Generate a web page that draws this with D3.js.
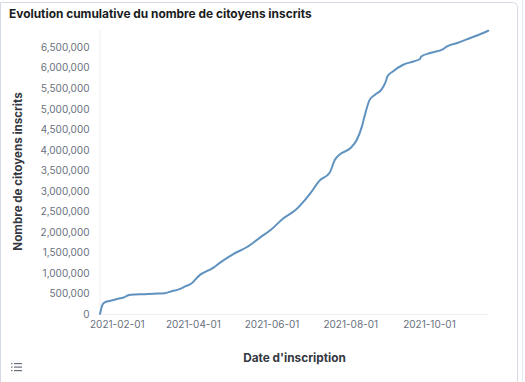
<!DOCTYPE html>
<html>
<head>
<meta charset="utf-8">
<script src="https://cdn.jsdelivr.net/npm/d3@7"></script>
<style>
  html, body { margin: 0; padding: 0; background: #fff; }
  svg { display: block; font-family: Inter, "Open Sans", sans-serif; }
</style>
</head>
<body>
<svg id="chart" width="525" height="382"></svg>
<script>
const title = "Evolution cumulative du nombre de citoyens inscrits";
const yTitle = "Nombre de citoyens inscrits";
const xTitle = "Date d'inscription";

const dates = [
  "2021-01-19","2021-01-21","2021-01-23","2021-01-28","2021-02-02","2021-02-07",
  "2021-02-09","2021-02-12","2021-02-23","2021-03-02","2021-03-10","2021-03-15",
  "2021-03-21","2021-03-26","2021-04-01","2021-04-03","2021-04-07","2021-04-13",
  "2021-04-17","2021-04-21","2021-05-02","2021-05-13","2021-05-23","2021-05-31",
  "2021-06-10","2021-06-20","2021-07-01","2021-07-08","2021-07-16","2021-07-20",
  "2021-07-24","2021-08-01","2021-08-06","2021-08-10","2021-08-12","2021-08-16",
  "2021-08-20","2021-08-25","2021-08-28","2021-08-30","2021-09-03","2021-09-11",
  "2021-09-19","2021-09-24","2021-09-25","2021-10-02","2021-10-12","2021-10-15",
  "2021-10-23","2021-11-02","2021-11-10","2021-11-16"
];
const inscrits = [
  0, 232000, 288000, 330000, 371000, 410000,
  445000, 469000, 484000, 494000, 508000, 550000,
  599000, 672000, 770000, 843000, 965000, 1063000,
  1129000, 1227000, 1454000, 1632000, 1862000, 2040000,
  2326000, 2546000, 2937000, 3245000, 3441000, 3751000,
  3890000, 4037000, 4240000, 4565000, 4809000, 5217000,
  5339000, 5461000, 5625000, 5800000, 5909000, 6073000,
  6153000, 6212000, 6275000, 6358000, 6456000, 6520000,
  6603000, 6725000, 6823000, 6903000
];
const yTicks = [0,500000,1000000,1500000,2000000,2500000,3000000,3500000,4000000,4500000,5000000,5500000,6000000,6500000];
const xTickLabels = ["2021-02-01","2021-04-01","2021-06-01","2021-08-01","2021-10-01"];

const parse = d3.utcParse("%Y-%m-%d");
const data = dates.map((d, i) => ({ date: parse(d), value: inscrits[i] }));

const svg = d3.select("#chart");

// panel frame
svg.append("path")
  .attr("d", "M0.5,382 L0.5,2.5 L512.5,2.5 Q517.5,2.5 517.5,7.5 L517.5,382")
  .attr("fill", "none").attr("stroke", "#d3dae6").attr("stroke-width", 1);
svg.append("line").attr("x1", 522.5).attr("x2", 522.5).attr("y1", 0).attr("y2", 382)
  .attr("stroke", "#e4e8ef").attr("stroke-width", 1);

svg.append("text").text(title)
  .attr("x", 9).attr("y", 17.5)
  .attr("font-size", 11.9).attr("font-weight", 700).attr("fill", "#1a1c21");

const x = d3.scaleUtc()
  .domain([parse("2021-01-19"), parse("2021-11-16")])
  .range([100, 488.3]);
const y = d3.scaleLinear()
  .domain([0, 6920000])
  .range([314, 30]);

// axis lines (faint)
svg.append("line").attr("x1", 100).attr("x2", 100).attr("y1", 30).attr("y2", 314)
  .attr("stroke", "#eef0f3").attr("stroke-width", 1);
svg.append("line").attr("x1", 100).attr("x2", 488.3).attr("y1", 314.5).attr("y2", 314.5)
  .attr("stroke", "#eef0f3").attr("stroke-width", 1);

const yAxis = d3.axisLeft(y).tickValues(yTicks).tickSize(0).tickPadding(0)
  .tickFormat(d3.format(","));
const gy = svg.append("g").attr("transform", "translate(89.5,0)").call(yAxis);
gy.select(".domain").remove();
gy.selectAll("text").attr("font-size", 10).attr("fill", "#69707d")
  .attr("font-family", "Inter, sans-serif");

const xAxis = d3.axisBottom(x).tickValues(xTickLabels.map(parse)).tickSize(0).tickPadding(0)
  .tickFormat(d3.utcFormat("%Y-%m-%d"));
const gx = svg.append("g").attr("transform", "translate(0,321)").call(xAxis);
gx.select(".domain").remove();
gx.selectAll("text").attr("font-size", 10).attr("fill", "#69707d")
  .attr("font-family", "Inter, sans-serif");

svg.append("text").text(yTitle)
  .attr("transform", "translate(22,171.5) rotate(-90)")
  .attr("text-anchor", "middle")
  .attr("font-size", 11.6).attr("font-weight", 700).attr("fill", "#343741");

svg.append("text").text(xTitle)
  .attr("x", 294.5).attr("y", 362)
  .attr("text-anchor", "middle")
  .attr("font-size", 11.8).attr("font-weight", 700).attr("fill", "#343741");

const line = d3.line()
  .x(d => x(d.date)).y(d => y(d.value))
  .curve(d3.curveMonotoneX);
svg.append("path").datum(data)
  .attr("d", line)
  .attr("fill", "none").attr("stroke", "#6092c0").attr("stroke-width", 2)
  .attr("stroke-linejoin", "round").attr("stroke-linecap", "round");

// legend toggle icon
const icon = svg.append("g").attr("transform", "translate(11,363)").attr("fill", "#69707d");
[0, 3.5, 7].forEach(dy => {
  icon.append("rect").attr("x", 0).attr("y", dy).attr("width", 1.5).attr("height", 1.2);
  icon.append("rect").attr("x", 3).attr("y", dy).attr("width", 8).attr("height", 1.2);
});
</script>
</body>
</html>
